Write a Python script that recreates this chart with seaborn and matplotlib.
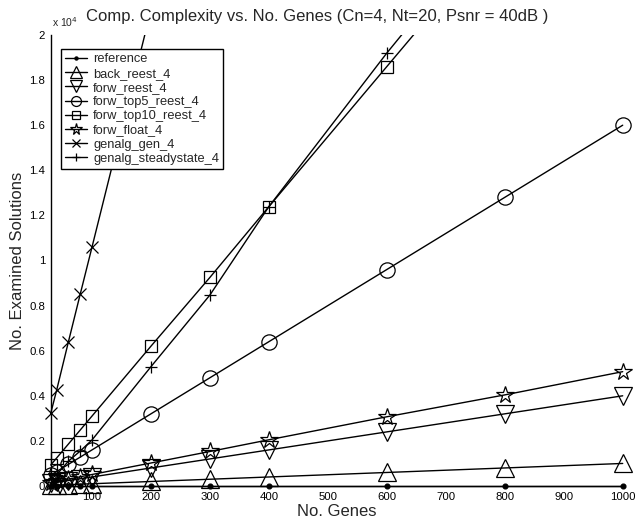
import matplotlib
matplotlib.use("Agg")
import matplotlib.pyplot as plt
import matplotlib.ticker as mticker
from matplotlib.transforms import Bbox, TransformedBbox
import seaborn as sns
import pandas as pd

# ---------------- data ----------------
genes = [30, 40, 60, 80, 100, 200, 300, 400, 600, 800, 1000]
genes_800 = [30, 40, 60, 80, 100, 200, 300, 400, 600, 800]
genes_ga = [30, 40, 60, 80, 100, 200]

reference = [1, 1, 1, 1, 1, 1, 1, 1, 1, 1, 1]
back_reest_4 = [30, 40, 60, 80, 100, 200, 300, 400, 600, 800, 1000]
forw_reest_4 = [120, 160, 240, 320, 400, 800, 1200, 1600, 2400, 3200, 4000]
forw_top5_reest_4 = [480, 640, 960, 1280, 1600, 3200, 4800, 6400, 9600, 12800, 16000]
forw_top10_reest_4 = [930, 1240, 1860, 2480, 3100, 6200, 9250, 12390, 18600, 24800]
forw_float_4 = [153, 204, 306, 408, 510, 1020, 1530, 2050, 3070, 4040, 5070]
genalg_gen_4 = [3220, 4240, 6390, 8500, 10590, 21100]
genalg_steadystate_4 = [300, 500, 1100, 1550, 2040, 5290, 8470, 12390, 19200, 25600]

series = [
    ("reference", genes, reference),
    ("back_reest_4", genes, back_reest_4),
    ("forw_reest_4", genes, forw_reest_4),
    ("forw_top5_reest_4", genes, forw_top5_reest_4),
    ("forw_top10_reest_4", genes_800, forw_top10_reest_4),
    ("forw_float_4", genes, forw_float_4),
    ("genalg_gen_4", genes_ga, genalg_gen_4),
    ("genalg_steadystate_4", genes_800, genalg_steadystate_4),
]
markers = {
    "reference": ".",
    "back_reest_4": "^",
    "forw_reest_4": "v",
    "forw_top5_reest_4": "o",
    "forw_top10_reest_4": "s",
    "forw_float_4": "*",
    "genalg_gen_4": "x",
    "genalg_steadystate_4": "+",
}
msizes = {
    "reference": 7,
    "back_reest_4": 13,
    "forw_reest_4": 13,
    "forw_top5_reest_4": 11,
    "forw_top10_reest_4": 9,
    "forw_float_4": 13,
    "genalg_gen_4": 8,
    "genalg_steadystate_4": 9,
}

rows = []
for name, xs, ys in series:
    for xv, yv in zip(xs, ys):
        rows.append({"genes": xv, "solutions": yv, "method": name})
df = pd.DataFrame(rows)

# ---------------- plot ----------------
sns.set_theme(style="white")
plt.rcParams["font.family"] = ["Liberation Sans", "DejaVu Sans"]

fig = plt.figure(figsize=(6.37, 5.23), dpi=100)
ax = fig.add_axes([50.7 / 637, 1 - 486 / 523, 572 / 637, 451 / 523])

for name, _, _ in series:
    sub = df[df["method"] == name]
    sns.lineplot(data=sub, x="genes", y="solutions", ax=ax, color="black",
                 linewidth=1.0, marker=markers[name], markersize=msizes[name],
                 markerfacecolor="none" if name != "reference" else "black",
                 markeredgecolor="black", markeredgewidth=0.9,
                 label=name, zorder=3, estimator=None, sort=False)

ax.set_xlim(30, 1000)
ax.set_ylim(0, 20000)

# clip only at the top of the axes (markers at the other edges stay whole)
clip = TransformedBbox(Bbox([[-0.1, -0.1], [1.1, 1.0]]), ax.transAxes)
for ln in ax.lines:
    ln.set_clip_on(True)
    ln.set_clip_box(clip)

ax.set_xticks(list(range(100, 1001, 100)))
ax.set_yticks(list(range(0, 20001, 2000)))
ax.yaxis.set_major_formatter(mticker.FuncFormatter(lambda v, p: "%g" % (v / 1e4)))
ax.tick_params(direction="in", length=4, width=0.8, labelsize=8.2, colors="black",
               pad=4)
for s in ["top", "right"]:
    ax.spines[s].set_visible(False)
for s in ["left", "bottom"]:
    ax.spines[s].set_color("black")
    ax.spines[s].set_linewidth(1.0)
ax.set_facecolor("white")

ax.set_xlabel("No. Genes", fontsize=12, labelpad=2)
ax.set_ylabel("No. Examined Solutions", fontsize=12, labelpad=3)
fig.text(317.5 / 637, 1 - 21 / 523,
         "Comp. Complexity vs. No. Genes (Cn=4, Nt=20, Psnr = 40dB )",
         fontsize=12, ha="center", va="baseline")
fig.text(52 / 637, 1 - 27 / 523, r"x 10$^4$", fontsize=7.5, ha="left", va="baseline")

leg = ax.legend(loc="upper left", bbox_to_anchor=(0.018, 0.968), fontsize=9.3,
                frameon=True, fancybox=False, framealpha=1, edgecolor="black",
                handlelength=1.75, handletextpad=0.45, labelspacing=0.17,
                borderpad=0.3, borderaxespad=0, markerscale=0.65)
leg.get_frame().set_linewidth(1.0)
leg.set_zorder(5)

fig.savefig("out.png", dpi=100, facecolor="white")
